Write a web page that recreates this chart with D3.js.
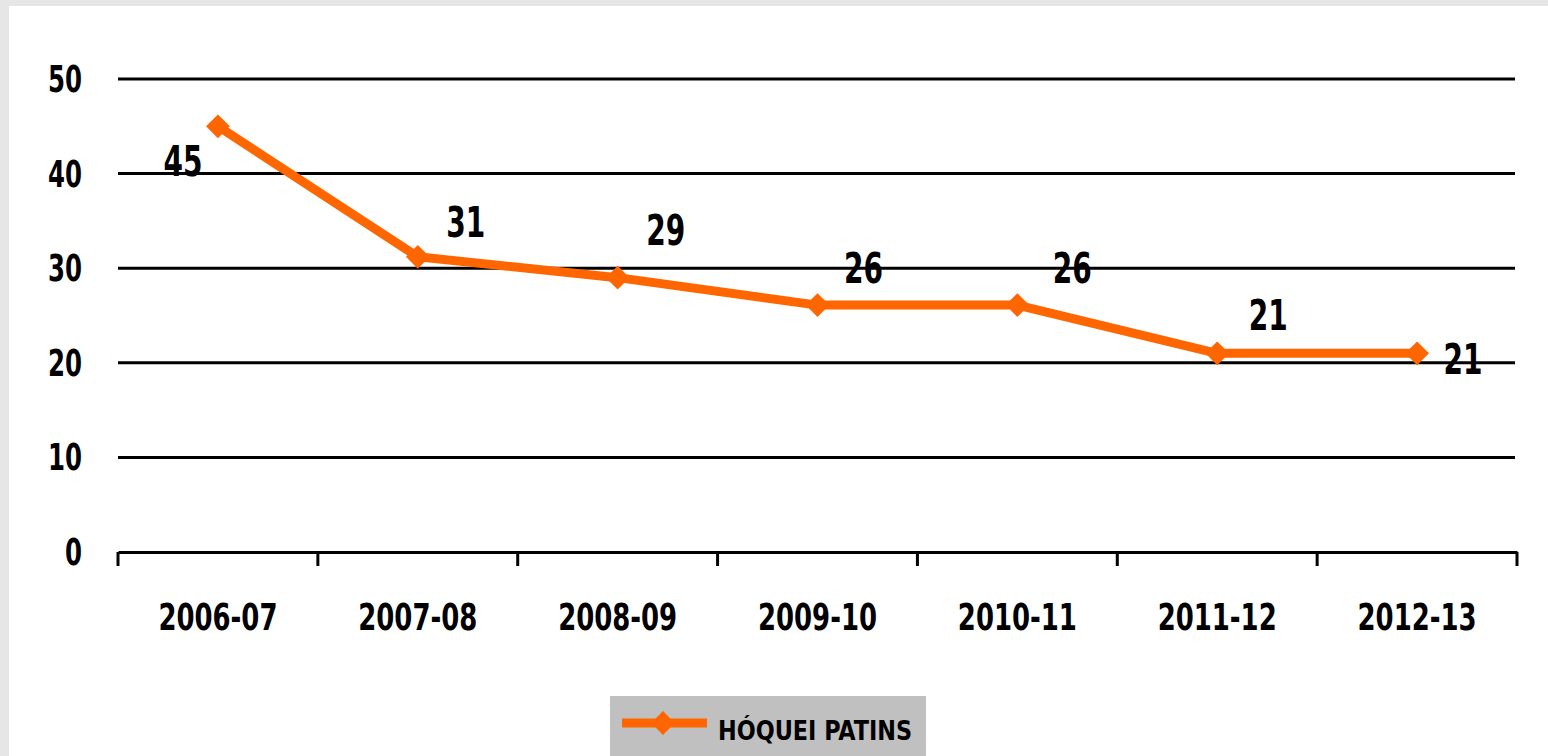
<!DOCTYPE html>
<html>
<head>
<meta charset="utf-8">
<script src="https://cdn.jsdelivr.net/npm/d3@7"></script>
<style>
  body { margin:0; background:#e6e6e6; }
  svg { display:block; }
  text { font-family:"DejaVu Sans Condensed","DejaVu Sans",sans-serif; font-stretch:condensed; font-weight:bold; fill:#000; }
</style>
</head>
<body>
<div class="graph"></div>
<script>
const seasons = ["2006-07","2007-08","2008-09","2009-10","2010-11","2011-12","2012-13"]
const hoquei = [45, 31.2, 29, 26.1, 26.1, 21, 21]
const valueLabels = ["45","31","29","26","26","21","21"]
const yTicks = [0,10,20,30,40,50]
const seriesName = "HÓQUEI PATINS"

// where Excel put each label, relative to its point
const labelOffsets = [[-35,50],[48,-20],[48,-33],[46,-22],[55,-22],[51,-23],[46,21]]

const w = 1548, h = 756
const orange = "#ff6600"

const svg = d3.select(".graph").append("svg")
    .attr("width", w).attr("height", h)

// white panel
svg.append("rect").attr("x", 9).attr("y", 6).attr("width", w - 9).attr("height", h - 6).style("fill", "#fff")

const x = d3.scaleBand().domain(seasons).range([118, 1517])
const y = d3.scaleLinear().domain([0, 50]).range([552, 79])

// gridlines
svg.selectAll(".grid").data(yTicks.filter(d => d > 0)).enter().append("line")
    .attr("x1", 118).attr("x2", 1515)
    .attr("y1", d => y(d)).attr("y2", d => y(d))
    .style("stroke", "#000").style("stroke-width", 3)

// y labels
svg.selectAll(".ylab").data(yTicks).enter().append("text")
    .attr("x", 82).attr("y", d => y(d) + 13)
    .attr("text-anchor", "end")
    .style("font-size", "38px")
    .attr("textLength", d => String(d).length * 17)
    .attr("lengthAdjust", "spacingAndGlyphs")
    .text(d => d)

// x axis
const xAxis = svg.append("g").attr("transform", "translate(0," + y(0) + ")")
    .call(d3.axisBottom(x).tickSizeInner(0).tickSizeOuter(0).tickFormat(""))
xAxis.select(".domain").style("stroke", "#000").style("stroke-width", 3)
const edges = seasons.map(s => x(s)).concat([x.range()[1]])
xAxis.selectAll(".edge").data(edges).enter().append("line")
    .attr("x1", d => d).attr("x2", d => d).attr("y1", 0).attr("y2", 14)
    .style("stroke", "#000").style("stroke-width", 3)

svg.selectAll(".xlab").data(seasons).enter().append("text")
    .attr("x", d => x(d) + x.bandwidth() / 2).attr("y", 630)
    .attr("text-anchor", "middle")
    .style("font-size", "37px")
    .attr("textLength", 119)
    .attr("lengthAdjust", "spacingAndGlyphs")
    .text(d => d)

// the line
const cx = (d, i) => x(seasons[i]) + x.bandwidth() / 2
const line = d3.line().x(cx).y(d => y(d))
svg.append("path").datum(hoquei).attr("d", line)
    .style("fill", "none").style("stroke", orange).style("stroke-width", 9).style("stroke-linejoin", "round")

const diamond = d3.symbol().type(d3.symbolDiamond2).size(360)
svg.selectAll(".pt").data(hoquei).enter().append("path")
    .attr("d", diamond)
    .attr("transform", (d, i) => "translate(" + cx(d, i) + "," + y(d) + ")")
    .style("fill", orange)

svg.selectAll(".vlab").data(hoquei).enter().append("text")
    .attr("x", (d, i) => cx(d, i) + labelOffsets[i][0])
    .attr("y", (d, i) => y(d) + labelOffsets[i][1])
    .attr("text-anchor", "middle")
    .style("font-size", "42px")
    .attr("textLength", 39)
    .attr("lengthAdjust", "spacingAndGlyphs")
    .text((d, i) => valueLabels[i])

// legend
const lg = svg.append("g").attr("transform", "translate(610,696)")
lg.append("rect").attr("width", 316).attr("height", 60).style("fill", "#c0c0c0")
lg.append("line").attr("x1", 12).attr("x2", 97).attr("y1", 27).attr("y2", 27)
    .style("stroke", orange).style("stroke-width", 9)
lg.append("path").attr("d", diamond).attr("transform", "translate(53,27)").style("fill", orange)
lg.append("text").attr("x", 108).attr("y", 44)
    .style("font-size", "27px")
    .attr("textLength", 194)
    .attr("lengthAdjust", "spacingAndGlyphs")
    .text(seriesName)
</script>
</body>
</html>
